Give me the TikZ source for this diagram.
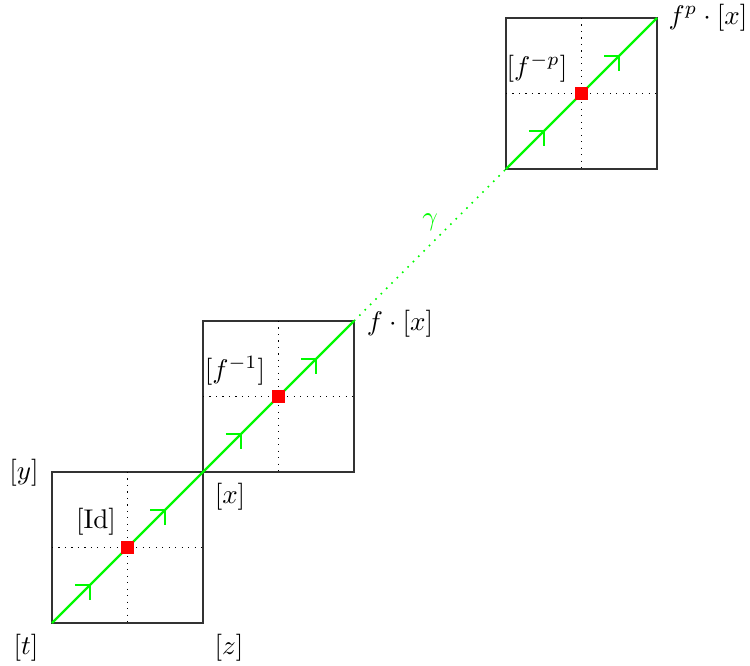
\documentclass[tikz,border=0pt]{standalone}
\usetikzlibrary{calc}
\definecolor{grn}{RGB}{0,250,0}
\begin{document}
\begin{tikzpicture}[x=0.37pt,y=-0.37pt,
  cell/.style={draw=black!80, line width=0.45pt, minimum size=55.87pt, inner sep=0pt, outer sep=0pt},
  cross/.style={black, line width=0.4pt, dotted},
  orbit/.style={grn, line width=0.8pt},
  fixpt/.style={fill=red, inner sep=0pt, minimum size=4.6pt},
  lbl/.style={inner sep=0pt, font=\fontsize{10.3}{12}\selectfont}]
\useasboundingbox (0,0) rectangle (750,665);
\node[cell] (s1) at (127.5,547.5) {};
\node[cell] (s2) at (278.5,396.5) {};
\node[cell] (s3) at (581.5,93.5) {};
\foreach \s in {s1,s2,s3} {
  \draw[cross] (\s.north) -- (\s.south);
  \draw[cross] (\s.west) -- (\s.east);
}
\draw[orbit] (s1.south west) -- (s2.north east);
\draw[orbit, line width=0.6pt, dash pattern=on 0.6pt off 2.2pt] (s2.north east) -- (s3.south west);
\draw[orbit] (s3.south west) -- (s3.north east);
\foreach \s in {s1,s2,s3} {
  \foreach \t in {0.25,0.75} {
    \coordinate (a) at ($(\s.south west)!\t!(\s.north east)$);
    \draw[orbit] ($(a)+(-15,0)$) -- (a) -- ($(a)+(0,15)$);
  }
  \node[fixpt] at (\s.center) {};
}
\node[lbl] (ly) at (24,473) {$[y]$};
\node[lbl] (lt) at (26,648) {$[t]$};
\node[lbl] (lz) at (229,648) {$[z]$};
\node[lbl] (lx) at (230,497) {$[x]$};
\node[lbl] (lid) at (96,522) {$[\mathrm{Id}]$};
\node[lbl] (lf1) at (235,371) {$[f^{-1}]$};
\node[lbl] (lfx) at (400,324) {$f\cdot[x]$};
\node[lbl] (lfp) at (537,68) {$[f^{-p}]$};
\node[lbl] (lfpx) at (708,18) {$f^{p}\cdot[x]$};
\node[lbl, text=grn] (lg) at (430,222) {$\gamma$};
\end{tikzpicture}
\end{document}
